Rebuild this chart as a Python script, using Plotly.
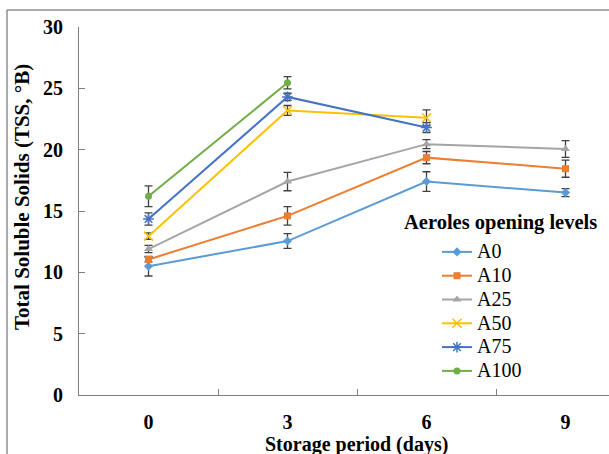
import plotly.graph_objects as go

days = ["0", "3", "6", "9"]
series_names = ["A0", "A10", "A25", "A50", "A75", "A100"]
A0 = [10.5, 12.55, 17.4, 16.5]
A10 = [11.05, 14.6, 19.35, 18.45]
A25 = [11.9, 17.4, 20.45, 20.05]
A50 = [12.95, 23.2, 22.6]
A75 = [14.35, 24.3, 21.8]
A100 = [16.2, 25.45]
A0_err = [0.8, 0.6, 0.8, 0.33]
A10_err = [0.2, 0.75, 0.5, 0.7]
A25_err = [0.3, 0.75, 0.37, 0.68]
A50_err = [0.27, 0.4, 0.65]
A75_err = [0.5, 0.3, 0.4]
A100_err = [0.85, 0.5]

values = [A0, A10, A25, A50, A75, A100]
errors = [A0_err, A10_err, A25_err, A50_err, A75_err, A100_err]
colors = ["#5B9BD5", "#ED7D31", "#A5A5A5", "#FFC000", "#4472C4", "#70AD47"]
symbols = ["diamond", "square", "triangle-up", "x-thin-open", "asterisk-open", "circle"]
sizes = [7, 7, 8, 9, 9, 7]

FONT = "Liberation Serif"

fig = go.Figure()
for name, v, e, c, s, sz in zip(series_names, values, errors, colors, symbols, sizes):
    open_sym = s.endswith("open")
    fig.add_trace(go.Scatter(
        x=days[:len(v)], y=v, name="<span style='font-size:20px'>" + name + "</span>",
        mode="lines+markers",
        line=dict(color=c, width=2),
        marker=dict(symbol=s, size=sz, color=c,
                    line=dict(color=c, width=1.5 if open_sym else 0)),
        error_y=dict(type="data", array=e, visible=True, color="#404040",
                     thickness=1.3, width=4),
    ))

W, H = 609, 454
L, R, T, B = 79, 0, 27, 59
pw = W - L - R
ph = H - T - B
full_w = 556  # full plot width (cropped at right)
xmax = -0.5 + 4 * pw / full_w

def px_to_xpaper(px):
    return (px - L) / pw

def py_to_ypaper(py):
    return (H - B - py) / ph

fig.update_layout(
    width=W, height=H,
    margin=dict(l=L, r=R, t=T, b=B),
    paper_bgcolor="white", plot_bgcolor="white",
    font=dict(family=FONT, color="black", size=20),
    showlegend=True,
    legend=dict(
        x=px_to_xpaper(437), y=py_to_ypaper(235), xanchor="left", yanchor="top",
        bgcolor="rgba(0,0,0,0)", font=dict(family=FONT, size=16, color="black"),
        itemwidth=30, tracegroupgap=0,
    ),
    xaxis=dict(
        type="category", range=[-0.5, xmax],
        showline=True, linecolor="#7f7f7f", linewidth=1,
        ticks="inside", ticklen=6, tickcolor="#7f7f7f", tickson="boundaries",
        showgrid=False, zeroline=False,
        tickfont=dict(family=FONT, size=20, color="black", weight="bold"),
        ticklabelstandoff=9,
    ),
    yaxis=dict(
        range=[0, 30], dtick=5, showline=True, linecolor="#7f7f7f", linewidth=1,
        ticks="inside", ticklen=6, tickcolor="#7f7f7f",
        showgrid=False, zeroline=False,
        tickfont=dict(family=FONT, size=20, color="black", weight="bold"),
        ticklabelstandoff=11,
    ),
)

fig.add_annotation(
    text="<b>Total Soluble Solids (TSS, °B)</b>", textangle=-90,
    xref="paper", yref="paper", x=px_to_xpaper(22), y=py_to_ypaper(197),
    xanchor="center", yanchor="middle", showarrow=False,
    font=dict(family=FONT, size=21, color="black"),
)
fig.add_annotation(
    text="<b>Storage period (days)</b>",
    xref="paper", yref="paper", x=px_to_xpaper(356), y=py_to_ypaper(444),
    xanchor="center", yanchor="middle", showarrow=False,
    font=dict(family=FONT, size=20, color="black"),
)
fig.add_annotation(
    text="<b>Aeroles opening levels</b>",
    xref="paper", yref="paper", x=px_to_xpaper(402), y=py_to_ypaper(222),
    xanchor="left", yanchor="middle", showarrow=False,
    font=dict(family=FONT, size=20.5, color="black"),
)

# outer chart frame (cropped at right / bottom)
fig.add_shape(type="line", xref="paper", yref="paper",
              x0=px_to_xpaper(7), x1=px_to_xpaper(7), y0=py_to_ypaper(10), y1=py_to_ypaper(460),
              line=dict(color="#595959", width=1))
fig.add_shape(type="line", xref="paper", yref="paper",
              x0=px_to_xpaper(7), x1=px_to_xpaper(620), y0=py_to_ypaper(10), y1=py_to_ypaper(10),
              line=dict(color="#595959", width=1))

fig.write_html("out.html", config={"displayModeBar": False},
               post_script="document.body.style.margin='0';")
